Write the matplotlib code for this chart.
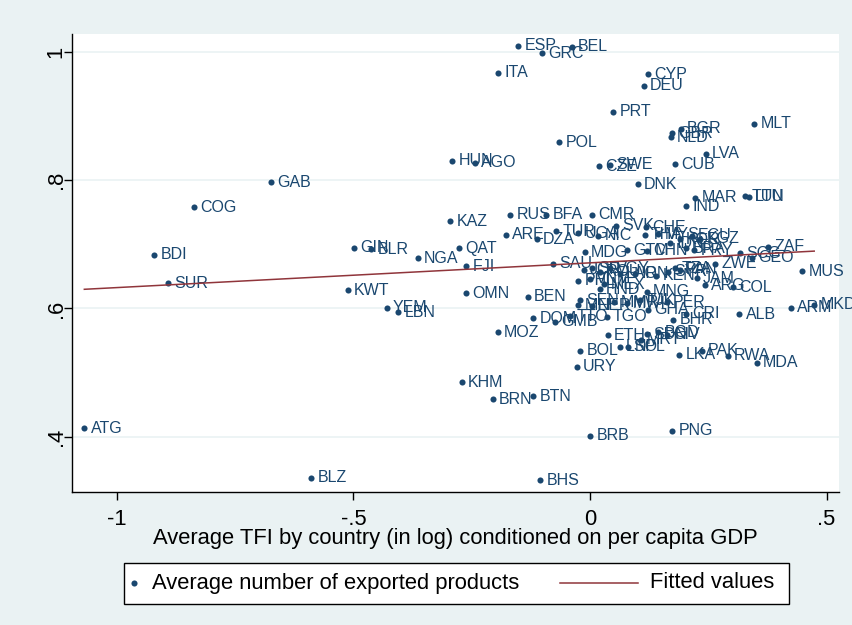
import numpy as np
import matplotlib.pyplot as plt
from matplotlib.patches import Rectangle
from matplotlib.lines import Line2D

# Stata s2color look
NAVY = "#1a476f"
MAROON = "#90353b"
BG = "#eaf2f3"

plt.rcParams['font.family'] = ['Liberation Sans', 'DejaVu Sans']

# country codes, average TFI (log, conditioned) and average number of exported products
codes = ["ESP", "GRC", "BEL", "ITA", "CYP", "DEU", "PRT", "MLT", "BGR", "GBR",
         "NLD", "LVA", "POL", "HUN", "AGO", "CZE", "SWE", "CUB", "DNK", "MAR",
         "TUN", "LTU", "IND", "GAB", "COG", "BDI", "SUR", "GIN", "BLR", "NGA",
         "KWT", "YEM", "LBN", "KAZ", "QAT", "FJI", "OMN", "ATG", "BLZ", "BHS",
         "KHM", "BRN", "BTN", "BRB", "BOL", "URY", "MOZ", "ETH", "PNG", "LKA",
         "PAK", "RWA", "MDA", "RUS", "BFA", "CMR", "ARE", "DZA", "TUR", "UGA",
         "MDG", "SAU", "BEN", "DOM", "GMB", "TTO", "SVK", "CHE", "NIC", "THA",
         "MYS", "IDN", "KOR", "ECU", "KGZ", "GTM", "CHN", "BRA", "PRY", "SCG",
         "ZAF", "GEO", "ZWE", "TZA", "MUS", "COL", "ARG", "MNG", "PER", "CRI",
         "BHR", "ALB", "BGD", "ARM", "MKD", "HND", "SEN", "MWI", "TGO", "JOR",
         "SLV", "ROU", "EGY", "LAO", "PHL", "VNM", "MEX", "IRN", "KEN", "SYR",
         "PAN", "JAM", "MLI", "NER", "MMR", "TJK", "GHA", "SDN", "CIV", "MRT",
         "NPL", "LSO"]

tfi = [-0.152, -0.102, -0.039, -0.195, 0.123, 0.114, 0.049, 0.347, 0.192, 0.173,
       0.171, 0.245, -0.065, -0.291, -0.243, 0.019, 0.042, 0.180, 0.101, 0.223,
       0.328, 0.336, 0.204, -0.675, -0.838, -0.921, -0.893, -0.499, -0.462, -0.364,
       -0.512, -0.430, -0.405, -0.295, -0.276, -0.262, -0.262, -1.069, -0.589, -0.105,
       -0.271, -0.206, -0.120, 0.000, -0.021, -0.028, -0.195, 0.037, 0.174, 0.189,
       0.236, 0.291, 0.352, -0.169, -0.092, 0.004, -0.178, -0.113, -0.072, -0.025,
       -0.011, -0.078, -0.132, -0.120, -0.074, -0.042, 0.055, 0.118, 0.017, 0.116,
       0.144, 0.169, 0.190, 0.215, 0.233, 0.078, 0.121, 0.203, 0.220, 0.317,
       0.377, 0.342, 0.264, 0.180, 0.449, 0.303, 0.243, 0.120, 0.162, 0.204,
       0.176, 0.316, 0.144, 0.424, 0.474, 0.021, -0.021, 0.078, 0.035, -0.013,
       0.004, 0.021, 0.042, 0.063, -0.025, 0.000, 0.030, 0.095, 0.140, 0.165,
       0.190, 0.226, -0.025, 0.004, 0.051, 0.106, 0.123, 0.120, 0.162, 0.107,
       0.081, 0.063]

nprod = [1.010, 0.998, 1.008, 0.968, 0.965, 0.947, 0.907, 0.888, 0.880, 0.873,
         0.867, 0.841, 0.859, 0.830, 0.827, 0.822, 0.824, 0.825, 0.794, 0.773,
         0.775, 0.774, 0.759, 0.797, 0.758, 0.684, 0.639, 0.695, 0.692, 0.678,
         0.628, 0.601, 0.594, 0.736, 0.694, 0.666, 0.624, 0.413, 0.336, 0.332,
         0.485, 0.458, 0.463, 0.401, 0.534, 0.509, 0.563, 0.558, 0.409, 0.528,
         0.534, 0.526, 0.515, 0.746, 0.746, 0.746, 0.715, 0.708, 0.720, 0.717,
         0.688, 0.670, 0.618, 0.585, 0.579, 0.588, 0.729, 0.727, 0.713, 0.715,
         0.716, 0.702, 0.708, 0.713, 0.709, 0.691, 0.690, 0.694, 0.691, 0.686,
         0.696, 0.679, 0.670, 0.663, 0.658, 0.633, 0.636, 0.626, 0.610, 0.592,
         0.582, 0.591, 0.563, 0.601, 0.606, 0.630, 0.613, 0.608, 0.587, 0.660,
         0.663, 0.657, 0.663, 0.654, 0.643, 0.646, 0.638, 0.654, 0.651, 0.657,
         0.660, 0.647, 0.605, 0.604, 0.610, 0.613, 0.598, 0.560, 0.559, 0.551,
         0.540, 0.540]

x_ticks = [-1, -0.5, 0, 0.5]
x_tick_labels = ["-1", "-.5", "0", ".5"]
y_ticks = [0.4, 0.6, 0.8, 1.0]
y_tick_labels = [".4", ".6", ".8", "1"]

x = np.array(tfi)
y = np.array(nprod)

# fitted values (linear fit, over the range of x)
slope, intercept = np.polyfit(x, y, 1)
xfit = np.array([x.min(), x.max()])
yfit = intercept + slope * xfit

W, H = 853, 625
fig = plt.figure(figsize=(W / 100, H / 100), dpi=100, facecolor=BG)
ax = fig.add_axes([72 / W, 1 - 492 / H, (839 - 72) / W, (492 - 34) / H])
ax.set_facecolor("white")

ax.set_xlim(-1.0951, 0.5264)
ax.set_ylim(0.3136, 1.0281)

for yt in y_ticks:
    ax.axhline(yt, color=BG, lw=1.2, zorder=0)

ax.plot(x, y, 'o', color=NAVY, markersize=4.4, markeredgewidth=0, zorder=3)
for c, xi, yi in zip(codes, x, y):
    ax.annotate(c, (xi, yi), xytext=(4.5, 0), textcoords='offset points',
                ha='left', va='center', fontsize=11.5, color=NAVY,
                annotation_clip=False, zorder=3)

ax.plot(xfit, yfit, color=MAROON, lw=1.1, zorder=4)

ax.set_xticks(x_ticks)
ax.set_xticklabels(x_tick_labels)
ax.set_yticks(y_ticks)
ax.set_yticklabels(y_tick_labels, rotation=90, va='center')
ax.tick_params(axis='both', direction='out', length=5.5, width=1, colors='black',
               labelsize=15.8)
ax.tick_params(axis='x', pad=6.5)
ax.tick_params(axis='y', pad=-1.8)

for s in ['top', 'right']:
    ax.spines[s].set_visible(False)
for s in ['left', 'bottom']:
    ax.spines[s].set_color('black')
    ax.spines[s].set_linewidth(1)

ax.set_xlabel("Average TFI by country (in log) conditioned on per capita GDP",
              fontsize=15.8, labelpad=-1.5)

# legend, laid out like Stata's
def fx(px):
    return px / W

def fy(py):
    return 1 - py / H

fig.add_artist(Rectangle((fx(124), fy(604)), fx(789) - fx(124), fy(563) - fy(604),
                         transform=fig.transFigure, facecolor='white',
                         edgecolor='black', lw=1))
fig.add_artist(Line2D([fx(134)], [fy(583)], marker='o', color=NAVY,
                      markersize=4.4, markeredgewidth=0, transform=fig.transFigure))
fig.text(fx(152), fy(583), "Average number of exported products", fontsize=15.8,
         ha='left', va='center')
fig.add_artist(Line2D([fx(560), fx(638)], [fy(583), fy(583)], color=MAROON, lw=1.1,
                      transform=fig.transFigure))
fig.text(fx(650), fy(583), "Fitted values", fontsize=15.8, ha='left', va='center')

fig.savefig("out.png", dpi=100, facecolor=BG)
